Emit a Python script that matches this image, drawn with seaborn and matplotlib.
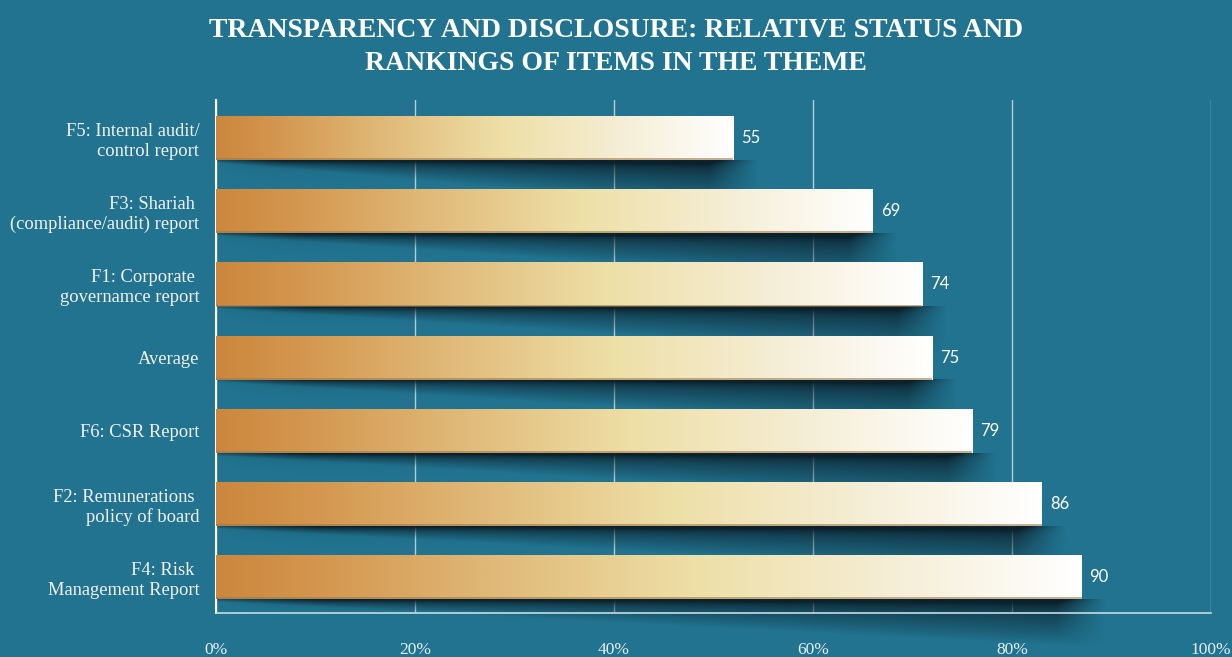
import numpy as np
import pandas as pd
import seaborn as sns
import matplotlib.pyplot as plt
from matplotlib.colors import LinearSegmentedColormap, to_rgb

# Datos (de arriba hacia abajo)
categories = [
    "F5: Internal audit/\ncontrol report",
    "F3: Shariah \n(compliance/audit) report",
    "F1: Corporate \ngovernamce report",
    "Average",
    "F6: CSR Report",
    "F2: Remunerations \npolicy of board",
    "F4: Risk \nManagement Report",
]
scores = [55, 69, 74, 75, 79, 86, 90]
# largo de las barras (no coincide con la etiqueta)
bar_len = [52, 66, 71, 72, 76, 83, 87]
x_ticks = [0, 20, 40, 60, 80, 100]
x_tick_labels = ["0%", "20%", "40%", "60%", "80%", "100%"]

bg = "#21738f"
serif = "Liberation Serif"
df = pd.DataFrame({"item": categories, "len": bar_len, "score": scores})

fig = plt.figure(figsize=(12.32, 6.57), dpi=100, facecolor=bg)
ax = fig.add_axes([216 / 1232, 1 - 613 / 657, (1211 - 216) / 1232, 513 / 657])
ax.set_facecolor(bg)

sns.barplot(data=df, x="len", y="item", orient="h", width=0.6, ax=ax)

grad = LinearSegmentedColormap.from_list(
    "oro",
    [(0, "#cc873d"), (0.12, "#d4974f"), (0.35, "#e2be7e"),
     (0.55, "#eedfa6"), (0.8, "#f6efd9"), (1, "#ffffff")])
shadow_rgb = to_rgb("#0a1d27")

for p, L, s in zip(ax.patches, bar_len, scores):
    x0, y0 = p.get_x(), p.get_y()
    w, h = p.get_width(), p.get_height()
    p.set_visible(False)
    ybot = y0 + h

    # sombra bajo la barra (cuña difusa que se abre hacia la derecha)
    ext = 3
    depth = 0.64
    nx, ny = 400, 150
    xs = np.linspace(0, w + ext, nx)
    ds = np.linspace(0, 1, ny)
    X, D = np.meshgrid(xs, ds)
    t = np.clip(X / w, 0, 1)
    reach = 0.05 + 0.95 * t
    body = np.clip(1 - D / reach, 0, 1) ** 0.85
    band = np.exp(-D / 0.09) * np.clip(t * 8, 0, 1)
    a = 0.8 * body * (0.55 + 0.45 * t) + 0.6 * band
    fade = np.clip((w + 2.5 - X) / 5.0, 0, 1)
    a *= fade ** 1.2
    rgba = np.zeros((ny, nx, 4))
    rgba[..., :3] = shadow_rgb
    rgba[..., 3] = np.clip(a, 0, 0.95)
    ax.imshow(rgba, extent=[0, w + ext, ybot + depth, ybot], aspect="auto",
              zorder=1, clip_on=False, interpolation="bilinear")

    # barra con degradado
    g = np.linspace(0, 1, 256).reshape(1, -1)
    ax.imshow(g, cmap=grad, extent=[x0, x0 + w, ybot, y0], aspect="auto",
              zorder=3, interpolation="bilinear")
    ax.plot([x0, x0 + w], [ybot - 0.01, ybot - 0.01], color="#9c7a4a",
            lw=1.2, alpha=0.7, zorder=4, solid_capstyle="butt")

    ax.text(x0 + w + 0.8, y0 + h / 2, str(s), va="center", ha="left",
            color="white", fontsize=12, family="Lato", zorder=5)

ax.set_xlim(0, 100)
ax.set_ylim(6.49, -0.52)

ax.set_xticks(x_ticks)
ax.set_xticklabels(x_tick_labels, family=serif, fontsize=12.5,
                   color="#e4eff3")
ax.tick_params(axis="x", length=0, pad=21)
ax.tick_params(axis="y", length=0, pad=12)
for lab in ax.get_yticklabels():
    lab.set_family(serif)
    lab.set_fontsize(13.3)
    lab.set_color("#f2f2f2")
    lab.set_linespacing(1.2)
ax.set_xlabel("")
ax.set_ylabel("")

ax.grid(axis="x", color="#b8ced6", lw=1, zorder=0)
ax.grid(axis="y", visible=False)
ax.set_axisbelow(True)
for sp in ["top", "right"]:
    ax.spines[sp].set_visible(False)
ax.spines["left"].set_color("white")
ax.spines["left"].set_linewidth(1.5)
ax.spines["bottom"].set_color("#c9dbe1")
ax.spines["bottom"].set_linewidth(1.2)

fig.text(0.5, 1 - 47 / 657,
         "TRANSPARENCY AND DISCLOSURE: RELATIVE STATUS AND\nRANKINGS OF ITEMS IN THE THEME",
         ha="center", va="center", color="white", fontsize=20,
         fontweight="bold", family=serif, linespacing=1.45)

fig.savefig("out.png", dpi=100, facecolor=bg)
